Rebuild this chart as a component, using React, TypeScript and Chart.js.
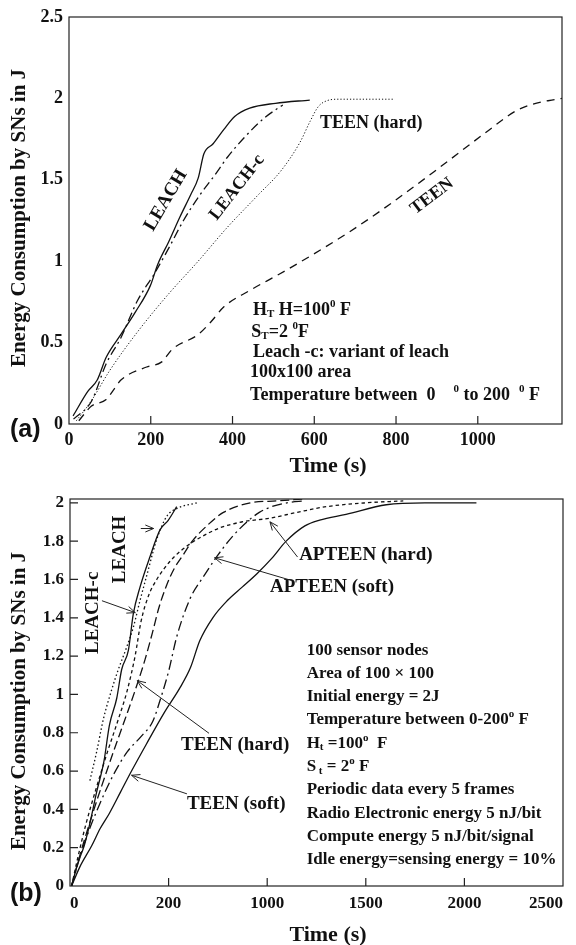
import React, { useEffect, useRef } from 'react';
import { Chart, registerables } from 'chart.js';
Chart.register(...registerables);

const FONT = "'Liberation Serif', 'Times New Roman', serif";
const INK = '#111';

// ---------------- Panel (a) ----------------
const A_X_TICKS = [0, 200, 400, 600, 800, 1000];
const A_X_LABELS = ['0', '200', '400', '600', '800', '1000'];
const A_Y_TICKS = [0, 0.5, 1, 1.5, 2, 2.5];
const A_Y_LABELS = ['0', '0.5', '1', '1.5', '2', '2.5'];

const A_LEACH_T = [10, 46, 69, 91, 127, 163, 199, 217, 244, 271, 298, 316, 330, 352, 379, 406, 442, 505, 589];
const A_LEACH_E = [0.05, 0.2, 0.27, 0.41, 0.55, 0.69, 0.85, 0.98, 1.12, 1.27, 1.41, 1.51, 1.66, 1.72, 1.81, 1.89, 1.94, 1.97, 1.99];
const A_LEACHC_T = [11, 55, 91, 127, 168, 208, 244, 280, 321, 357, 388, 429, 478, 523];
const A_LEACHC_E = [0.03, 0.14, 0.37, 0.53, 0.76, 0.92, 1.08, 1.25, 1.41, 1.53, 1.64, 1.76, 1.88, 1.96];
const A_TEENH_T = [18, 54, 100, 172, 244, 316, 388, 460, 520, 565, 590, 610, 630, 660, 797];
const A_TEENH_E = [0.02, 0.14, 0.33, 0.58, 0.8, 1.0, 1.21, 1.4, 1.56, 1.73, 1.86, 1.95, 1.985, 1.995, 1.995];
const A_TEEN_T = [24, 55, 91, 109, 127, 190, 226, 253, 316, 348, 379, 442, 514, 596, 686, 785, 893, 1014, 1091, 1128, 1181, 1206];
const A_TEEN_E = [0.02, 0.11, 0.15, 0.21, 0.27, 0.35, 0.38, 0.46, 0.55, 0.63, 0.72, 0.82, 0.92, 1.04, 1.18, 1.35, 1.55, 1.78, 1.92, 1.96, 1.99, 2.0];

// ---------------- Panel (b) ----------------
const B_X_TICKS = [0, 500, 1000, 1500, 2000, 2500];
const B_X_LABELS = ['0', '200', '1000', '1500', '2000', '2500'];
const B_Y_TICKS = [0, 0.2, 0.4, 0.6, 0.8, 1, 1.2, 1.4, 1.6, 1.8, 2];
const B_Y_LABELS = ['0', '0.2', '0.4', '0.6', '0.8', '1', '1.2', '1.4', '1.6', '1.8', '2'];

const B_LEACHC_T = [101, 135, 169, 210, 245, 285, 321, 355, 389, 440, 491, 541, 643];
const B_LEACHC_E = [0.55, 0.7, 0.87, 1.02, 1.13, 1.24, 1.35, 1.49, 1.62, 1.81, 1.93, 1.97, 2.0];
const B_LEACH_T = [8, 40, 72, 97, 135, 172, 200, 237, 262, 296, 321, 355, 406, 457, 499, 541];
const B_LEACH_E = [0, 0.12, 0.21, 0.31, 0.49, 0.65, 0.84, 0.98, 1.13, 1.23, 1.42, 1.56, 1.72, 1.86, 1.91, 1.98];
const B_TEENH_T = [8, 50, 100, 160, 220, 279, 330, 380, 420, 450, 490, 530, 575, 620, 694, 778, 914, 1050, 1183];
const B_TEENH_E = [0, 0.16, 0.33, 0.52, 0.7, 0.87, 1.02, 1.18, 1.33, 1.45, 1.57, 1.66, 1.73, 1.8, 1.88, 1.95, 2.0, 2.01, 2.02];
const B_APTEENH_T = [8, 40, 80, 130, 190, 245, 290, 330, 360, 400, 440, 480, 530, 600, 680, 761, 870, 1014, 1150, 1300, 1500, 1690];
const B_APTEENH_E = [0, 0.15, 0.32, 0.5, 0.7, 0.87, 1.02, 1.2, 1.38, 1.52, 1.6, 1.66, 1.72, 1.78, 1.83, 1.87, 1.9, 1.92, 1.95, 1.98, 2.0, 2.01];
const B_APTEENS_T = [8, 50, 100, 160, 220, 290, 360, 420, 460, 500, 541, 609, 680, 745, 820, 897, 960, 1023, 1100, 1191];
const B_APTEENS_E = [0, 0.15, 0.3, 0.45, 0.58, 0.7, 0.78, 0.86, 0.98, 1.12, 1.3, 1.5, 1.62, 1.72, 1.82, 1.9, 1.95, 1.98, 2.0, 2.01];
const B_TEENS_T = [8, 50, 110, 153, 200, 256, 312, 387, 481, 555, 611, 658, 724, 798, 873, 948, 1023, 1096, 1191, 1266, 1400, 1604, 1800, 2061];
const B_TEENS_E = [0, 0.1, 0.21, 0.3, 0.38, 0.49, 0.6, 0.74, 0.91, 1.03, 1.14, 1.28, 1.4, 1.49, 1.56, 1.63, 1.71, 1.8, 1.88, 1.91, 1.94, 1.99, 2.0, 2.0];

type Seg = { t: string; sub?: boolean; sup?: boolean };

const A_NOTES: Seg[][] = [
  [{ t: 'H' }, { t: 'T', sub: true }, { t: ' H=100' }, { t: '0', sup: true }, { t: ' F' }],
  [{ t: 'S' }, { t: 'T', sub: true }, { t: '=2 ' }, { t: '0', sup: true }, { t: 'F' }],
  [{ t: 'Leach -c: variant of leach' }],
  [{ t: '100x100 area' }],
  [{ t: 'Temperature between  0    ' }, { t: '0', sup: true }, { t: ' to 200  ' }, { t: '0', sup: true }, { t: ' F' }],
];
const A_NOTE_X = [450, 446, 450, 443, 443];
const A_NOTE_Y = [0.7, 0.565, 0.44, 0.318, 0.178];

const B_NOTES: Seg[][] = [
  [{ t: '100 sensor nodes' }],
  [{ t: 'Area of 100 \u00d7 100' }],
  [{ t: 'Initial energy = 2J' }],
  [{ t: 'Temperature between 0-200' }, { t: 'o', sup: true }, { t: ' F' }],
  [{ t: 'H' }, { t: 't', sub: true }, { t: ' =100' }, { t: 'o', sup: true }, { t: '  F' }],
  [{ t: 'S' }, { t: ' t', sub: true }, { t: ' = 2' }, { t: 'o', sup: true }, { t: ' F' }],
  [{ t: 'Periodic data every 5 frames' }],
  [{ t: 'Radio Electronic energy 5 nJ/bit' }],
  [{ t: 'Compute energy 5 nJ/bit/signal' }],
  [{ t: 'Idle energy=sensing energy = 10%' }],
];
const B_NOTE_X = 1200;
const B_NOTE_Y0 = 1.231;

type Lab = { text: string; x: number; y: number; rot: number; align: 'left' | 'center'; size: number };
const A_LABELS: Lab[] = [
  { text: 'LEACH', x: 237, y: 1.374, rot: -59.5, align: 'center', size: 19 },
  { text: 'LEACH-c', x: 411, y: 1.454, rot: -52, align: 'center', size: 18 },
  { text: 'TEEN (hard)', x: 614, y: 1.847, rot: 0, align: 'left', size: 18 },
  { text: 'TEEN', x: 888, y: 1.399, rot: -37, align: 'center', size: 18 },
];
const B_LABELS: Lab[] = [
  { text: 'LEACH-c', x: 116, y: 1.426, rot: -90, align: 'center', size: 19 },
  { text: 'LEACH', x: 256, y: 1.757, rot: -90, align: 'center', size: 19 },
  { text: 'APTEEN (hard)', x: 1162, y: 1.725, rot: 0, align: 'left', size: 19 },
  { text: 'APTEEN (soft)', x: 1014, y: 1.559, rot: 0, align: 'left', size: 19 },
  { text: 'TEEN (hard)', x: 563, y: 0.735, rot: 0, align: 'left', size: 19 },
  { text: 'TEEN (soft)', x: 593, y: 0.429, rot: 0, align: 'left', size: 19 },
];
// arrows: [fromX, fromY, toX, toY] in data units
const B_ARROWS = [
  [359, 1.866, 424, 1.866],
  [162, 1.489, 331, 1.427],
  [1154, 1.717, 1014, 1.901],
  [1126, 1.594, 733, 1.713],
  [705, 0.797, 341, 1.072],
  [593, 0.481, 312, 0.578],
];

const pts = (T: number[], E: number[]) => T.map((t, i) => ({ x: t, y: E[i] }));

function ds(label: string, T: number[], E: number[], dash: number[], width = 1.3) {
  return {
    label,
    data: pts(T, E),
    borderColor: INK,
    borderWidth: width,
    borderDash: dash,
    pointRadius: 0,
    fill: false,
    cubicInterpolationMode: 'monotone' as const,
  };
}

function drawRich(ctx: CanvasRenderingContext2D, segs: Seg[], x: number, y: number, size: number) {
  let cx = x;
  ctx.textAlign = 'left';
  ctx.textBaseline = 'middle';
  for (const s of segs) {
    const small = s.sub || s.sup;
    const fs = small ? Math.round(size * 0.62) : size;
    ctx.font = `bold ${fs}px ${FONT}`;
    const dy = s.sub ? size * 0.25 : s.sup ? -size * 0.32 : 0;
    ctx.fillText(s.t, cx, y + dy);
    cx += ctx.measureText(s.t).width;
  }
}

function drawArrow(ctx: CanvasRenderingContext2D, x1: number, y1: number, x2: number, y2: number) {
  ctx.beginPath();
  ctx.moveTo(x1, y1);
  ctx.lineTo(x2, y2);
  const a = Math.atan2(y2 - y1, x2 - x1);
  const L = 9;
  ctx.moveTo(x2 - L * Math.cos(a - 0.4), y2 - L * Math.sin(a - 0.4));
  ctx.lineTo(x2, y2);
  ctx.lineTo(x2 - L * Math.cos(a + 0.4), y2 - L * Math.sin(a + 0.4));
  ctx.stroke();
}

type Panel = {
  tag: string;
  xTicks: number[];
  yTicks: number[];
  yTickMarks: boolean;
  labels: Lab[];
  yTitleY: number;
  xTitleY: number;
  tagY: number;
  notes: (chart: any, ctx: CanvasRenderingContext2D) => void;
  arrows: number[][];
};

function decoPlugin(p: Panel) {
  return {
    id: 'deco',
    afterDraw(chart: any) {
      const ctx: CanvasRenderingContext2D = chart.ctx;
      const { left, right, top, bottom } = chart.chartArea;
      const xs = chart.scales.x;
      const ys = chart.scales.y;
      ctx.save();
      ctx.strokeStyle = '#222';
      ctx.lineWidth = 1.2;
      ctx.setLineDash([]);
      ctx.strokeRect(left, top, right - left, bottom - top);
      // inward tick marks
      ctx.beginPath();
      for (const v of p.xTicks) {
        const px = xs.getPixelForValue(v);
        if (px <= left + 1 || px >= right - 1) continue;
        ctx.moveTo(px, bottom);
        ctx.lineTo(px, bottom - 8);
      }
      if (p.yTickMarks) {
        for (const v of p.yTicks) {
          const py = ys.getPixelForValue(v);
          if (py >= bottom - 1 || py <= top + 1) continue;
          ctx.moveTo(left, py);
          ctx.lineTo(left + 8, py);
        }
      }
      ctx.stroke();

      ctx.fillStyle = INK;
      // axis titles
      ctx.font = `bold 21px ${FONT}`;
      ctx.textAlign = 'center';
      ctx.textBaseline = 'middle';
      ctx.save();
      ctx.translate(20, p.yTitleY);
      ctx.rotate(-Math.PI / 2);
      ctx.fillText('Energy Consumption by SNs in J', 0, 0);
      ctx.restore();
      ctx.font = `bold 22px ${FONT}`;
      ctx.textBaseline = 'alphabetic';
      ctx.fillText('Time (s)', 328, p.xTitleY);
      // panel tag
      ctx.font = `bold 25px 'Liberation Sans', Arial, sans-serif`;
      ctx.textAlign = 'left';
      ctx.textBaseline = 'middle';
      ctx.fillText(p.tag, 10, p.tagY);

      // curve labels
      for (const l of p.labels) {
        const x = xs.getPixelForValue(l.x);
        const y = ys.getPixelForValue(l.y);
        ctx.save();
        ctx.translate(x, y);
        ctx.rotate((l.rot * Math.PI) / 180);
        ctx.font = `bold ${l.size}px ${FONT}`;
        ctx.textAlign = l.align;
        ctx.textBaseline = 'middle';
        ctx.fillText(l.text, 0, 0);
        ctx.restore();
      }
      // arrows
      ctx.strokeStyle = '#222';
      ctx.lineWidth = 1;
      for (const a of p.arrows) {
        drawArrow(ctx, xs.getPixelForValue(a[0]), ys.getPixelForValue(a[1]), xs.getPixelForValue(a[2]), ys.getPixelForValue(a[3]));
      }
      p.notes(chart, ctx);
      ctx.restore();
    },
  };
}

function makeConfig(opts: {
  datasets: any[];
  xMax: number;
  yMax: number;
  xTicks: number[];
  xLabels: string[];
  yTicks: number[];
  yLabels: string[];
  padTop: number;
  padRight: number;
  yWidth: number;
  xHeight: number;
  tickSizeX: number;
  tickSizeY: number;
  xAlign: 'center' | 'inner';
  xPad: number;
  panel: Panel;
}) {
  return {
    type: 'line' as const,
    data: { datasets: opts.datasets },
    options: {
      responsive: false,
      animation: false as const,
      devicePixelRatio: 1,
      layout: { padding: { left: 0, right: opts.padRight, top: opts.padTop, bottom: 0 } },
      plugins: { legend: { display: false }, tooltip: { enabled: false } },
      scales: {
        x: {
          type: 'linear' as const,
          min: 0,
          max: opts.xMax,
          grid: { display: false, drawTicks: false },
          border: { display: false },
          afterBuildTicks: (s: any) => {
            s.ticks = opts.xTicks.map((v) => ({ value: v }));
          },
          afterFit: (s: any) => {
            s.height = opts.xHeight;
            s.paddingLeft = 0;
            s.paddingRight = 0;
          },
          ticks: {
            color: INK,
            padding: opts.xPad,
            maxRotation: 0,
            autoSkip: false,
            align: opts.xAlign,
            font: { family: FONT, weight: 'bold' as const, size: opts.tickSizeX },
            callback: (v: any) => {
              const i = opts.xTicks.indexOf(Number(v));
              return i >= 0 ? opts.xLabels[i] : '';
            },
          },
        },
        y: {
          type: 'linear' as const,
          min: 0,
          max: opts.yMax,
          grid: { display: false, drawTicks: false },
          border: { display: false },
          afterBuildTicks: (s: any) => {
            s.ticks = opts.yTicks.map((v) => ({ value: v }));
          },
          afterFit: (s: any) => {
            s.width = opts.yWidth;
            s.paddingTop = 0;
            s.paddingBottom = 0;
          },
          ticks: {
            color: INK,
            padding: 6,
            autoSkip: false,
            font: { family: FONT, weight: 'bold' as const, size: opts.tickSizeY },
            callback: (v: any) => {
              const i = opts.yTicks.findIndex((t) => Math.abs(t - Number(v)) < 1e-6);
              return i >= 0 ? opts.yLabels[i] : '';
            },
          },
        },
      },
    },
    plugins: [decoPlugin(opts.panel)],
  };
}

function configA() {
  const panel: Panel = {
    tag: '(a)',
    xTicks: A_X_TICKS,
    yTicks: A_Y_TICKS,
    yTickMarks: false,
    labels: A_LABELS,
    yTitleY: 218,
    xTitleY: 472,
    tagY: 430,
    arrows: [],
    notes: (chart, ctx) => {
      ctx.fillStyle = INK;
      A_NOTES.forEach((segs, i) => {
        drawRich(ctx, segs, chart.scales.x.getPixelForValue(A_NOTE_X[i]), chart.scales.y.getPixelForValue(A_NOTE_Y[i]), 18);
      });
    },
  };
  return makeConfig({
    datasets: [
      ds('LEACH', A_LEACH_T, A_LEACH_E, []),
      ds('LEACH-c', A_LEACHC_T, A_LEACHC_E, [9, 4, 2, 4]),
      ds('TEEN (hard)', A_TEENH_T, A_TEENH_E, [1.2, 2], 1),
      ds('TEEN', A_TEEN_T, A_TEEN_E, [8, 6]),
    ],
    xMax: 1206,
    yMax: 2.5,
    xTicks: A_X_TICKS,
    xLabels: A_X_LABELS,
    yTicks: A_Y_TICKS,
    yLabels: A_Y_LABELS,
    padTop: 17,
    padRight: 14,
    yWidth: 69,
    xHeight: 61,
    tickSizeX: 18,
    tickSizeY: 18,
    xAlign: 'center',
    xPad: 6,
    panel,
  });
}

function configB() {
  const panel: Panel = {
    tag: '(b)',
    xTicks: B_X_TICKS,
    yTicks: B_Y_TICKS,
    yTickMarks: true,
    labels: B_LABELS,
    yTitleY: 701 - 470,
    xTitleY: 941 - 470,
    tagY: 894 - 470,
    arrows: B_ARROWS,
    notes: (chart, ctx) => {
      ctx.fillStyle = INK;
      const x = chart.scales.x.getPixelForValue(B_NOTE_X);
      const y0 = chart.scales.y.getPixelForValue(B_NOTE_Y0);
      B_NOTES.forEach((segs, i) => drawRich(ctx, segs, x, y0 + i * 23.3, 17));
    },
  };
  return makeConfig({
    datasets: [
      ds('LEACH-c', B_LEACHC_T, B_LEACHC_E, [1.5, 2.5]),
      ds('LEACH', B_LEACH_T, B_LEACH_E, []),
      ds('TEEN (hard)', B_TEENH_T, B_TEENH_E, [9, 4]),
      ds('APTEEN (hard)', B_APTEENH_T, B_APTEENH_E, [3.5, 3]),
      ds('APTEEN (soft)', B_APTEENS_T, B_APTEENS_E, [10, 4, 2, 4]),
      ds('TEEN (soft)', B_TEENS_T, B_TEENS_E, []),
    ],
    xMax: 2500,
    yMax: 2.02,
    xTicks: B_X_TICKS,
    xLabels: B_X_LABELS,
    yTicks: B_Y_TICKS,
    yLabels: B_Y_LABELS,
    padTop: 29,
    padRight: 13,
    yWidth: 70,
    xHeight: 59,
    tickSizeX: 17,
    tickSizeY: 17,
    xAlign: 'inner',
    xPad: 7,
    panel,
  });
}

function ChartCanvas({ make, top, height }: { make: () => any; top: number; height: number }) {
  const ref = useRef<HTMLCanvasElement>(null);
  useEffect(() => {
    const chart = new Chart(ref.current as HTMLCanvasElement, make());
    return () => chart.destroy();
  }, []);
  return (
    <canvas
      ref={ref}
      width={576}
      height={height}
      style={{ position: 'absolute', left: 0, top, width: 576, height }}
    />
  );
}

export default function App() {
  return (
    <div style={{ position: 'absolute', left: 0, top: 0, width: 576, height: 945, background: '#fff', overflow: 'hidden' }}>
      <ChartCanvas make={configA} top={0} height={485} />
      <ChartCanvas make={configB} top={470} height={475} />
    </div>
  );
}
